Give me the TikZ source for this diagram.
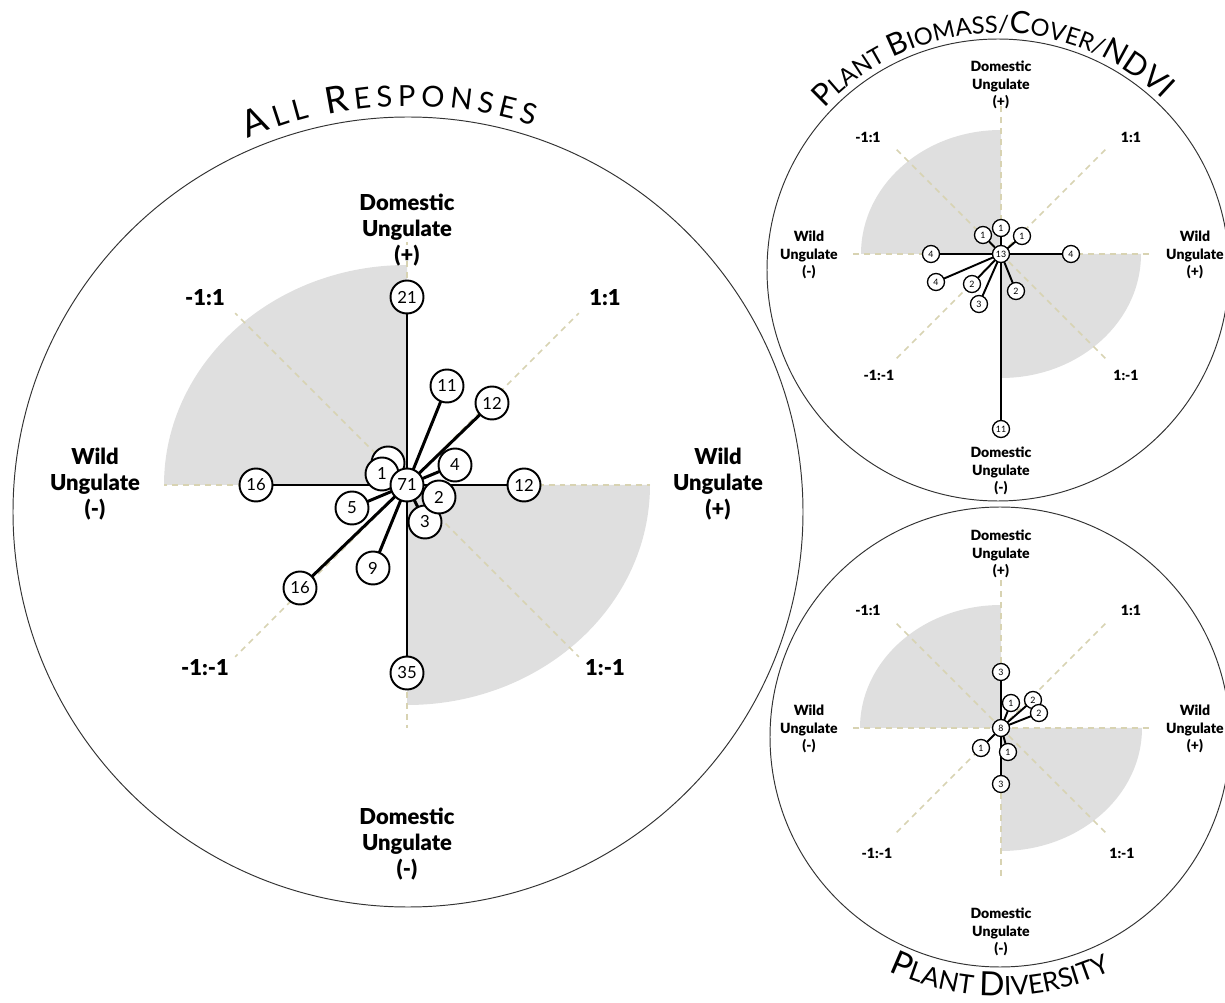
\documentclass[tikz,border=0pt]{standalone}
\usepackage{fontspec}
\setmainfont{Lato}
\newfontfamily\heavyfont{Lato Black}
\usetikzlibrary{decorations.text}

\definecolor{axisbeige}{HTML}{D8D3B2}
\definecolor{quadgrey}{HTML}{DFDFDF}
\def\titlebig{\fontsize{21}{21}\selectfont\kern3pt}
\def\titlesmall{\fontsize{16.5}{16.5}\selectfont\kern3pt}
\def\subtitlebig{\fontsize{17.5}{17.5}\selectfont}
\def\subtitlesmall{\fontsize{13.5}{13.5}\selectfont}
% grey quadrants and dashed axes of one chart: (centre)(axis length:grey x radius:grey y radius)
\def\chartbase(#1,#2)(#3:#4:#5){%
  \fill[quadgrey] (#1,#2) -- ++(-#4,0) arc (180:90:#4 and #5) -- cycle;
  \fill[quadgrey] (#1,#2) -- ++(#4,0) arc (0:-90:#4 and #5) -- cycle;
  \foreach \ang in {0,45,...,315} \draw[axisline] (#1,#2) -- ++(\ang:#3);
}
\pgfdeclarelayer{bg}
\pgfsetlayers{bg,main}

\tikzset{
  num/.style={circle, draw, fill=white, line width=1.1pt, minimum size=0.66cm, inner sep=0pt, font=\fontsize{9.5}{10}\selectfont},
  smallnum/.style={circle, draw, fill=white, line width=0.75pt, minimum size=0.34cm, inner sep=0pt, font=\fontsize{5}{5}\selectfont},
  axislab/.style={align=center, font=\heavyfont\fontsize{12.5}{14.8}\selectfont},
  smallaxislab/.style={align=center, font=\heavyfont\fontsize{8}{10}\selectfont},
  spoke/.style={line width=1.7pt},
  smallspoke/.style={line width=1.1pt},
  axisline/.style={axisbeige, line width=0.85pt, dash pattern=on 3.4pt off 2.8pt},
  ring/.style={draw=black!80, line width=0.55pt},
}

\begin{document}
\begin{tikzpicture}[x=0.02cm, y=0.02cm]
	\useasboundingbox (0,0) rectangle (1225,-1003);
	
	%%%%% ALL RESPONSES %%%%%
	\draw[ring] (408,-512) circle (395);
	\path[decorate, decoration={text along path, text align=center,
		text={|\titlebig|A|\titlesmall|LL |\titlebig|R|\titlesmall|ESPONSES}}]
		([shift={(133:406)}]408,-512) arc (133:53:406);
	
	\node[num] (mblank) at (388,-463) {};
	\node[num] (m1) at (382,-474) {1};
	\node[num] (m3) at (425,-522) {3};
	\node[num] (m2) at (439,-497) {2};
	\node[num] (m4) at (455,-465) {4};
	\node[num] (m5) at (352,-508) {5};
	\node[num] (m9) at (373,-568) {9};
	\node[num] (m11) at (447,-386) {11};
	\node[num] (m12ne) at (492,-403) {12};
	\node[num] (m12e) at (524,-485) {12};
	\node[num] (m16w) at (256,-485) {16};
	\node[num] (m16sw) at (300,-588) {16};
	\node[num] (m21) at (407,-297) {21};
	\node[num] (m35) at (407,-673) {35};
	\node[num] (m71) at (407,-485) {71};
	
	\begin{pgfonlayer}{bg}
		\chartbase(407,-485)(243:243:220)
		\foreach \n in {mblank,m1,m3,m2,m4,m5,m9,m11,m12ne,m12e,m16w,m16sw,m21,m35}
			\draw[spoke] (m71.center) -- (\n.center);
	\end{pgfonlayer}
	
	\node[axislab] (mdomup) at (407,-230) {Domestic\\Ungulate\\(+)};
	\node[axislab] (mdomdown) at (407,-844) {Domestic\\Ungulate\\(-)};
	\node[axislab] (mwildneg) at (95,-484) {Wild\\Ungulate\\(-)};
	\node[axislab] (mwildpos) at (718,-484) {Wild\\Ungulate\\(+)};
	\node[axislab] (mnw) at (205,-298) {-1:1};
	\node[axislab] (mne) at (605,-298) {1:1};
	\node[axislab] (msw) at (205,-668) {-1:-1};
	\node[axislab] (mse) at (605,-668) {1:-1};
	
	%%%%% PLANT BIOMASS/COVER/NDVI %%%%%
	\draw[ring] (998,-270) circle (231);
	\path[decorate, decoration={text along path, text align=center,
		text={|\subtitlebig|P|\subtitlesmall|LANT |\subtitlebig|B|\subtitlesmall|IOMASS/|\subtitlebig|C|\subtitlesmall|OVER/|\subtitlebig|NDVI}}]
		([shift={(150:237)}]998,-270) arc (150:33:237);
	
	\node[smallnum] (b1n) at (1001,-228) {1};
	\node[smallnum] (b1nw) at (983,-235) {1};
	\node[smallnum] (b1ne) at (1022,-236) {1};
	\node[smallnum] (b4w) at (931,-254) {4};
	\node[smallnum] (b4sw) at (936,-282) {4};
	\node[smallnum] (b2sw) at (972,-284) {2};
	\node[smallnum] (b3) at (979,-304) {3};
	\node[smallnum] (b2se) at (1016,-291) {2};
	\node[smallnum] (b4e) at (1071,-254) {4};
	\node[smallnum] (b11) at (1001,-429) {11};
	\node[smallnum] (b13) at (1001,-254) {13};
	
	\begin{pgfonlayer}{bg}
		\chartbase(1001,-254)(150:140:124)
		\foreach \n in {b1n,b1nw,b1ne,b4w,b4sw,b2sw,b3,b2se,b4e,b11}
			\draw[smallspoke] (b13.center) -- (\n.center);
	\end{pgfonlayer}
	
	\node[smallaxislab] (bdomup) at (1001,-85) {Domestic\\Ungulate\\(+)};
	\node[smallaxislab] (bdomdown) at (1001,-471) {Domestic\\Ungulate\\(-)};
	\node[smallaxislab] (bwildneg) at (809,-255) {Wild\\Ungulate\\(-)};
	\node[smallaxislab] (bwildpos) at (1195,-255) {Wild\\Ungulate\\(+)};
	\node[smallaxislab] (bnw) at (868,-137) {-1:1};
	\node[smallaxislab] (bne) at (1131,-137) {1:1};
	\node[smallaxislab] (bsw) at (879,-375) {-1:-1};
	\node[smallaxislab] (bse) at (1126,-375) {1:-1};
	
	%%%%% PLANT DIVERSITY %%%%%
	\draw[ring] (1000,-737) circle (230);
	\path[decorate, decoration={text along path, text align=center,
		text={|\fontsize{19}{19}\selectfont|P|\fontsize{15}{15}\selectfont|LANT |\fontsize{19}{19}\selectfont|D|\fontsize{15}{15}\selectfont|IVERSITY}}]
		([shift={(225:259)}]1000,-737) arc (225:315:259);
	
	\node[smallnum] (d3n) at (1001,-672) {3};
	\node[smallnum] (d1ne) at (1011,-703) {1};
	\node[smallnum] (d2a) at (1033,-700) {2};
	\node[smallnum] (d2b) at (1039,-713) {2};
	\node[smallnum] (d1sw) at (981,-748) {1};
	\node[smallnum] (d1se) at (1008,-752) {1};
	\node[smallnum] (d3s) at (1001,-784) {3};
	\node[smallnum] (d8) at (1001,-728) {8};
	
	\begin{pgfonlayer}{bg}
		\chartbase(1001,-728)(150:141:123)
		\foreach \n in {d3n,d1ne,d2a,d2b,d1sw,d1se,d3s}
			\draw[smallspoke] (d8.center) -- (\n.center);
	\end{pgfonlayer}
	
	\node[smallaxislab] (ddomup) at (1001,-554) {Domestic\\Ungulate\\(+)};
	\node[smallaxislab] (ddomdown) at (1001,-932) {Domestic\\Ungulate\\(-)};
	\node[smallaxislab] (dwildneg) at (809,-729) {Wild\\Ungulate\\(-)};
	\node[smallaxislab] (dwildpos) at (1195,-729) {Wild\\Ungulate\\(+)};
	\node[smallaxislab] (dnw) at (868,-610) {-1:1};
	\node[smallaxislab] (dne) at (1131,-610) {1:1};
	\node[smallaxislab] (dsw) at (877,-853) {-1:-1};
	\node[smallaxislab] (dse) at (1122,-853) {1:-1};
\end{tikzpicture}
\end{document}
